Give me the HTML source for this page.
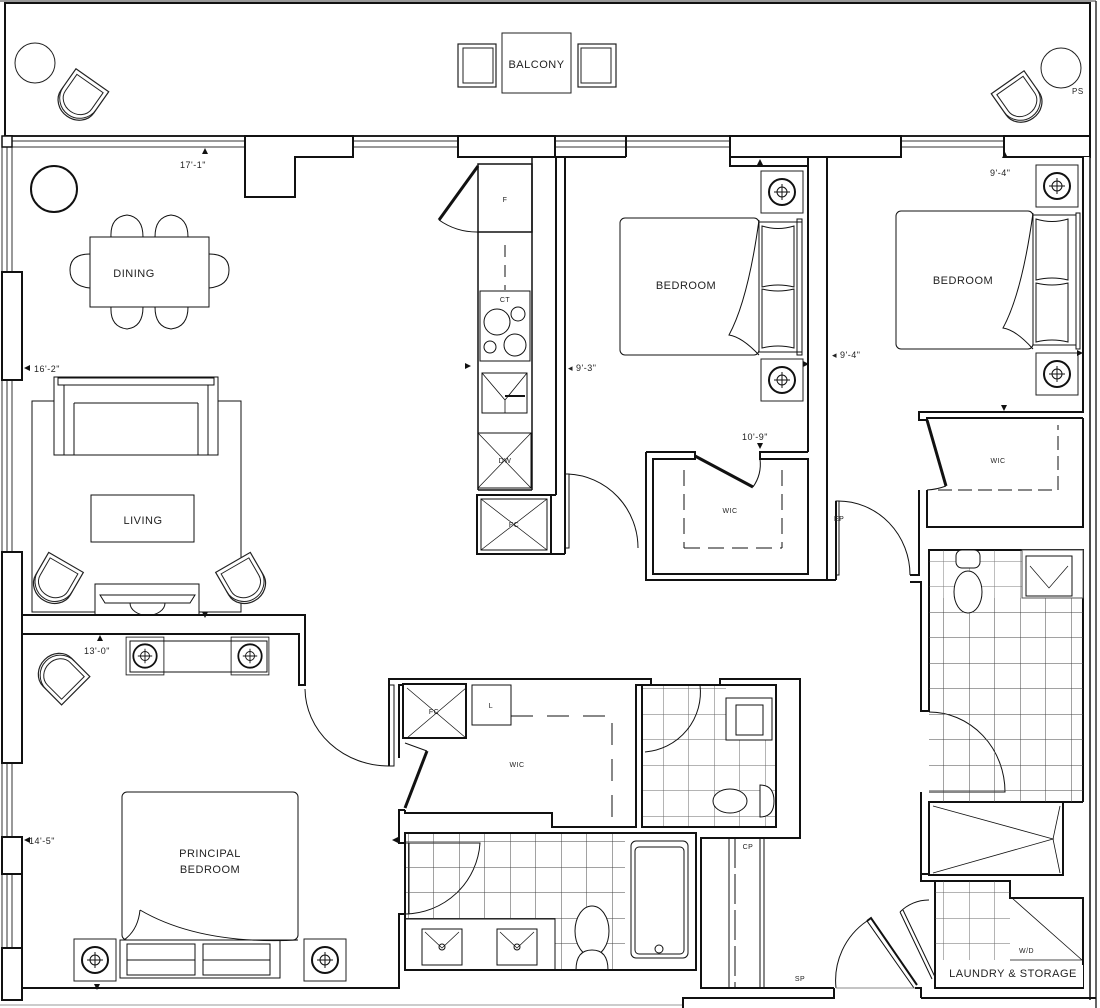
<!DOCTYPE html>
<html><head><meta charset="utf-8"><style>
html,body{margin:0;padding:0;background:#fff;}
svg{display:block;}
text{font-family:"Liberation Sans",sans-serif;fill:#222;letter-spacing:0.5px;}
</style></head><body>
<svg width="1100" height="1008" viewBox="0 0 1100 1008" xmlns="http://www.w3.org/2000/svg">
<defs>
<pattern id="tile" x="0" y="0" width="25.5" height="25.5" patternUnits="userSpaceOnUse">
<path d="M0 0H25.5M0 0V25.5" stroke="#444" stroke-width="1" fill="none"/>
</pattern>
<g id="chair">
<path d="M-20 -18 L20 -18 L20 8 A20 18 0 0 1 -20 8 Z" fill="#fff" stroke="#222" stroke-width="1.2"/>
<path d="M-16 -14 L16 -14 L16 6 A16 14 0 0 1 -16 6 Z" fill="none" stroke="#222" stroke-width="1"/>
<path d="M-20 4 A20 20 0 0 0 20 4" fill="none" stroke="#222" stroke-width="1"/>
</g>
<g id="ns">
<rect x="-21" y="-21" width="42" height="42" fill="#fff" stroke="#222" stroke-width="1"/>
<circle r="13" fill="none" stroke="#111" stroke-width="2"/>
<circle r="5" fill="none" stroke="#111" stroke-width="1"/>
<path d="M-8 0H8M0 -8V8" stroke="#111" stroke-width="1"/>
</g>
</defs>

<!-- balcony -->
<line x1="0" y1="1" x2="1096" y2="1" stroke="#333" stroke-width="1"/>
<rect x="5" y="3" width="1085" height="133" fill="none" stroke="#111" stroke-width="2"/>
<line x1="1096" y1="1" x2="1096" y2="1008" stroke="#333" stroke-width="1.5"/>
<circle cx="35" cy="63" r="20" fill="none" stroke="#222" stroke-width="1"/>
<g transform="translate(82,95) rotate(35)"><use href="#chair"/></g>
<g transform="translate(1018,97) rotate(-35)"><use href="#chair"/></g>
<circle cx="1061" cy="68" r="20" fill="none" stroke="#222" stroke-width="1"/>
<text x="1072" y="94" font-size="8">PS</text>
<rect x="502" y="33" width="69" height="60" fill="none" stroke="#222" stroke-width="1"/>
<text x="536.5" y="68" font-size="11" text-anchor="middle">BALCONY</text>
<rect x="458" y="44" width="38" height="43" fill="none" stroke="#222" stroke-width="1.2"/>
<rect x="463" y="48" width="30" height="35" fill="none" stroke="#222" stroke-width="1"/>
<rect x="578" y="44" width="38" height="43" fill="none" stroke="#222" stroke-width="1.2"/>
<rect x="581" y="48" width="30" height="35" fill="none" stroke="#222" stroke-width="1"/>

<!-- top window strip -->
<g stroke="#333" stroke-width="1" fill="none">
<rect x="12" y="136" width="1078" height="11"/>
<line x1="12" y1="141" x2="1090" y2="141"/>
<rect x="2" y="136" width="10" height="864"/>
<line x1="7" y1="147" x2="7" y2="1000"/>
</g>
<line x1="0" y1="1005" x2="683" y2="1005" stroke="#999" stroke-width="1"/>
<rect x="2" y="136" width="10" height="11" fill="#fff" stroke="#111" stroke-width="1.5"/>
<!-- wall blocks -->
<g fill="#fff" stroke="#111" stroke-width="2">
<polygon points="245,136 353,136 353,157 295,157 295,197 245,197"/>
<rect x="458" y="136" width="97" height="21"/>
<rect x="730" y="136" width="171" height="21"/>
<rect x="1004" y="136" width="86" height="21"/>
<rect x="2" y="272" width="20" height="108"/>
<rect x="2" y="552" width="20" height="211"/>
<rect x="2" y="837" width="20" height="37"/>
<rect x="2" y="948" width="20" height="52"/>
</g>
<line x1="555" y1="157" x2="626" y2="157" stroke="#111" stroke-width="2"/>
<line x1="626" y1="136" x2="626" y2="157" stroke="#111" stroke-width="2"/>
<rect x="1084" y="157" width="6" height="255" fill="#fff" stroke="none"/>
<line x1="1090" y1="136" x2="1090" y2="1000" stroke="#111" stroke-width="1.5"/>

<!-- kitchen -->
<g fill="none" stroke="#111" stroke-width="1.5">
<rect x="478" y="164" width="54" height="68"/>
<line x1="478" y1="232" x2="478" y2="490"/>
<line x1="532" y1="157" x2="532" y2="490"/>
<line x1="478" y1="490" x2="532" y2="490"/>
<rect x="480" y="291" width="50" height="70" stroke-width="1"/>
<circle cx="497" cy="322" r="13" stroke-width="1"/>
<circle cx="518" cy="314" r="7" stroke-width="1"/>
<circle cx="515" cy="345" r="11" stroke-width="1"/>
<circle cx="490" cy="347" r="6" stroke-width="1"/>
<rect x="482" y="373" width="45" height="40" stroke-width="1"/>
<path d="M482 373L505 400L527 373M505 400V413" stroke-width="0.8"/>
<line x1="505" y1="396" x2="525" y2="396" stroke-width="2"/>
<rect x="478" y="433" width="53" height="55" stroke-width="1"/>
<path d="M478 433L531 488M531 433L478 488" stroke-width="0.7"/>
<rect x="477" y="495" width="74" height="59" stroke-width="2"/>
<rect x="481" y="499" width="66" height="51" stroke-width="1"/>
<path d="M481 499L547 550M547 499L481 550" stroke-width="0.7"/>
<line x1="505" y1="245" x2="505" y2="290" stroke-dasharray="12,8" stroke-width="1"/>
<path d="M478 166 L439 220" stroke-width="3"/>
<path d="M439 220 A66 66 0 0 0 478 232" stroke-width="1"/>
</g>
<text x="505" y="202" font-size="7" text-anchor="middle">F</text>
<text x="505" y="302" font-size="7" text-anchor="middle">CT</text>
<text x="505" y="463" font-size="7" text-anchor="middle">DW</text>
<text x="514" y="527" font-size="7" text-anchor="middle">FC</text>

<!-- kitchen/bed1 wall -->
<line x1="556" y1="157" x2="556" y2="495" stroke="#111" stroke-width="2"/>
<line x1="565" y1="157" x2="565" y2="554" stroke="#111" stroke-width="2"/>
<line x1="551" y1="554" x2="565" y2="554" stroke="#111" stroke-width="2"/>
<line x1="551" y1="495" x2="556" y2="495" stroke="#111" stroke-width="2"/>
<path d="M568 474 A73 74 0 0 1 638 548" fill="none" stroke="#111" stroke-width="1"/>
<rect x="565" y="474" width="4" height="74" fill="none" stroke="#111" stroke-width="1"/>

<!-- bedroom1 -->
<g fill="none" stroke="#111" stroke-width="2">
<line x1="808" y1="157" x2="808" y2="452"/>
<line x1="827" y1="157" x2="827" y2="580"/>
<line x1="836" y1="501" x2="836" y2="580"/>
<polyline points="646,452 695,452 695,459 653,459 653,574 808,574 808,459 760,459 760,452 808,452"/>
<polyline points="646,452 646,580 836,580"/>
<polyline points="730,157 730,166 808,166"/>
<polyline points="827,157 901,157"/>
</g>
<g fill="none" stroke="#111" stroke-width="1">
<path d="M695 456 L753 487" stroke-width="3"/>
<path d="M753 487 A40 40 0 0 0 760 459"/>
<path d="M684 470V548M782 470V548M684 548H782" stroke-dasharray="16,8"/>
<path d="M838 501 A72 74 0 0 1 910 575"/>
<rect x="836" y="501" width="3" height="74"/>
<rect x="620" y="218" width="139" height="137" rx="5"/>
<rect x="759" y="222" width="43" height="130"/>
<rect x="797" y="219" width="5" height="136"/>
<path d="M762 226 Q778 231 794 226 L794 287 Q778 283 762 287Z M762 289 Q778 293 794 289 L794 348 Q778 344 762 348Z"/>
<path d="M759 220 Q748 300 729 335 Q742 337 759 355"/>
<rect x="896" y="211" width="137" height="138" rx="5"/>
<rect x="1033" y="215" width="43" height="130"/>
<rect x="1076" y="213" width="4" height="136"/>
<path d="M1036 219 Q1052 224 1068 219 L1068 280 Q1052 276 1036 280Z M1036 283 Q1052 287 1068 283 L1068 342 Q1052 338 1036 342Z"/>
<path d="M1033 213 Q1022 293 1003 328 Q1016 330 1033 349"/>
</g>
<use href="#ns" transform="translate(782,192)"/>
<use href="#ns" transform="translate(782,380)"/>
<use href="#ns" transform="translate(1057,186)"/>
<use href="#ns" transform="translate(1057,374)"/>
<text x="686" y="289" font-size="11" text-anchor="middle">BEDROOM</text>
<text x="963" y="284" font-size="11" text-anchor="middle">BEDROOM</text>
<text x="730" y="513" font-size="7" text-anchor="middle">WIC</text>
<text x="834" y="521" font-size="7">EP</text>
<text x="568" y="371" font-size="9">◂ 9'-3"</text>
<text x="832" y="358" font-size="9">◂ 9'-4"</text>
<text x="990" y="176" font-size="9">9'-4"</text>
<text x="742" y="440" font-size="9">10'-9"</text>
<path d="M760 159 l-3 6 h6z M1005 152 l-3 6 h6z M760 449 l-3 -6 h6z M1004 411 l-3 -6 h6z M471 366 l-6 -3 v6z M809 364 l-6 -3 v6z M1083 353 l-6 -3 v6z M205 148 l-3 6 h6z" fill="#111"/>

<!-- right section WIC2 / bath2 -->
<g fill="none" stroke="#111" stroke-width="2">
<polyline points="1083,157 1083,412 919,412 919,420 927,420 927,418 1083,418"/>
<polyline points="927,490 927,527 1083,527 1083,418"/>
<polyline points="919,490 919,575 910,575"/>
<polyline points="910,582 921,582 921,711 929,711 929,550 1083,550 1083,802"/>
<polyline points="921,792 921,874 929,874 929,802 1083,802"/>
<rect x="929" y="802" width="134" height="73"/>
<polyline points="921,874 921,881 935,881 935,988 1083,988 1083,898 1010,898 1010,881 935,881"/>
</g>
<g fill="none" stroke="#111" stroke-width="1">
<path d="M927 420 L946 486" stroke-width="3"/>
<path d="M946 486 A62 62 0 0 1 927 490"/>
<path d="M938 490H1058V425" stroke-dasharray="14,6"/>
<path d="M929 712 A76 80 0 0 1 1005 792 H929"/>
<path d="M933 806 L1053 839 L933 873 M1060 806 L1053 839 L1060 873" stroke-width="0.8"/>
<path d="M1012 898 L1082 960 M1010 960 H1083" stroke-width="0.8"/>
</g>
<rect x="929" y="598" width="154" height="204" fill="url(#tile)"/>
<rect x="929" y="550" width="93" height="48" fill="url(#tile)" opacity="0.7"/>
<rect x="935" y="881" width="75" height="79" fill="url(#tile)" opacity="0.8"/>
<rect x="1022" y="550" width="61" height="48" fill="#fff" stroke="#555"/>
<rect x="1026" y="556" width="46" height="40" fill="#fff" stroke="#111"/>
<path d="M1030 566 L1049 588 L1068 566" fill="none" stroke="#111" stroke-width="0.7"/>
<ellipse cx="968" cy="592" rx="14" ry="21" fill="#fff" stroke="#111"/>
<rect x="956" y="550" width="24" height="18" rx="6" fill="#fff" stroke="#111"/>
<rect x="945" y="965" width="138" height="22" fill="#fff"/>
<text x="998" y="463" font-size="7" text-anchor="middle">WIC</text>
<text x="1019" y="953" font-size="7">W/D</text>
<text x="1013" y="977" font-size="11" text-anchor="middle">LAUNDRY &amp; STORAGE</text>

<!-- living/dining -->
<circle cx="54" cy="189" r="23" fill="none" stroke="#111" stroke-width="2"/>
<g fill="none" stroke="#111" stroke-width="1">
<rect x="90" y="237" width="119" height="70"/>
<path d="M111 237 Q110 217 127 215 Q143 217 143 237 M155 237 Q155 217 171 215 Q188 217 188 237"/>
<path d="M111 307 Q110 327 127 329 Q143 327 143 307 M155 307 Q155 327 171 329 Q188 327 188 307"/>
<path d="M90 254 Q70 254 70 270 Q70 286 90 288 M209 254 Q229 254 229 270 Q229 286 209 288"/>
<rect x="32" y="401" width="209" height="211"/>
<rect x="54" y="377" width="164" height="78" fill="#fff"/>
<rect x="58" y="378" width="156" height="7"/>
<path d="M64 385V455M208 385V455M74 403H198M74 403V455M198 403V455"/>
<rect x="91" y="495" width="103" height="47"/>
<rect x="95" y="584" width="104" height="31" fill="#fff"/>
<path d="M100 595H195L190 603H105Z M130 603 A17 12 0 0 0 165 603"/>
</g>
<use href="#chair" transform="translate(57,578) rotate(30)"/>
<use href="#chair" transform="translate(242,578) rotate(-30)"/>
<text x="134" y="277" font-size="11" text-anchor="middle">DINING</text>
<text x="143" y="524" font-size="11" text-anchor="middle">LIVING</text>
<text x="180" y="168" font-size="9">17'-1"</text>
<text x="34" y="372" font-size="9">16'-2"</text>
<path d="M24 368 l6 -3 v6z M205 618 l-3 -6 h6z M100 635 l-3 6 h6z M24 840 l6 -3 v6z M97 990 l-3 -6 h6z M392 840 l6 -3 v6z" fill="#111"/>

<!-- principal bedroom -->
<g fill="none" stroke="#111" stroke-width="2">
<polyline points="22,615 305,615 305,685 299,685 299,634 22,634"/>
<polyline points="22,763 22,634"/>
<polyline points="22,874 22,948"/>
<polyline points="22,1000 22,988 399,988 399,914 405,914 405,970 696,970 696,833 405,833 405,843 399,843 399,810 405,810"/>
<polyline points="389,766 389,679 651,679 651,685 636,685 636,827 552,827 552,813 405,813 405,810"/>
<rect x="403" y="684" width="63" height="54"/>
<polyline points="399,758 399,685 403,685"/>
<polyline points="642,685 642,827 776,827 776,685 720,685 720,679 800,679 800,838 701,838 701,988 834,988"/>
<polyline points="642,679 652,679"/>
<polyline points="915,988 921,988 921,998"/>
<polyline points="834,988 834,998 683,998 683,1008"/>
<polyline points="921,998 1096,998"/>
</g>
<g fill="none" stroke="#111" stroke-width="1">
<rect x="389" y="685" width="5" height="81"/>
<path d="M305 689 A84 78 0 0 0 389 766"/>
<path d="M407 738 L466 688 M407 688 L466 738" stroke-width="0.7"/>
<rect x="472" y="685" width="39" height="40"/>
<path d="M511 716H612V827" stroke-dasharray="22,14"/>
<path d="M405 743 L427 751"/>
<path d="M427 751 L405 808" stroke-width="3"/>
<rect x="130" y="641" width="137" height="31"/>
<rect x="122" y="792" width="176" height="148" rx="5"/>
<rect x="120" y="940" width="160" height="38"/>
<path d="M127 944H195V975H127Z M203 944H270V975H203Z M127 960H195M203 960H270"/>
<path d="M140 910 Q200 945 298 940 L124 940 Q138 930 140 910"/>
<rect x="405" y="843" width="4" height="71"/>
<path d="M409 843 H480 A76 76 0 0 1 405 914"/>
<rect x="701" y="838" width="28" height="150"/>
<path d="M729 838V988M735 838V988" stroke-dasharray="30,6"/>
<path d="M760 838V988M764 838V988"/>
<path d="M836 988 A72 72 0 0 1 867 921 L914 988"/>
<path d="M867 921 L871 918 L917 985" stroke-width="2"/>
<path d="M900 912 L932 979 M903 910 L935 977 M900 912 A40 40 0 0 1 929 900"/>
<line x1="836" y1="988" x2="915" y2="988" stroke="#888"/>
</g>
<use href="#ns" transform="translate(145,656) scale(0.9)"/>
<use href="#ns" transform="translate(250,656) scale(0.9)"/>
<rect x="130" y="641" width="137" height="31" fill="none" stroke="#111" stroke-width="1"/>
<use href="#ns" transform="translate(95,960)"/>
<use href="#ns" transform="translate(325,960)"/>
<use href="#chair" transform="translate(63,678) rotate(135)"/>
<text x="210" y="857" font-size="11" text-anchor="middle">PRINCIPAL</text>
<text x="210" y="873" font-size="11" text-anchor="middle">BEDROOM</text>
<text x="29" y="844" font-size="9">14'-5"</text>
<text x="84" y="654" font-size="9">13'-0"</text>
<text x="434" y="714" font-size="7" text-anchor="middle">FC</text>
<text x="491" y="708" font-size="7" text-anchor="middle">L</text>
<text x="517" y="767" font-size="7" text-anchor="middle">WIC</text>
<text x="748" y="849" font-size="7" text-anchor="middle">CP</text>
<text x="800" y="981" font-size="7" text-anchor="middle">SP</text>

<!-- ensuite tiles -->
<rect x="405" y="833" width="220" height="86" fill="url(#tile)"/>
<rect x="555" y="919" width="70" height="51" fill="url(#tile)"/>
<g fill="#fff" stroke="#111" stroke-width="1">
<rect x="405" y="919" width="150" height="51"/>
<rect x="422" y="929" width="40" height="36"/>
<rect x="497" y="929" width="40" height="36"/>
<rect x="631" y="841" width="57" height="117" rx="5"/>
<rect x="635" y="847" width="49" height="107" rx="4"/>
<ellipse cx="592" cy="931" rx="17" ry="25"/>
<path d="M576 970 Q576 950 592 950 Q608 950 608 970"/>
</g>
<path d="M425 932 L442 948 L459 932 M500 932 L517 948 L534 932" fill="none" stroke="#111" stroke-width="0.7"/>
<circle cx="442" cy="947" r="3" fill="none" stroke="#111"/>
<circle cx="517" cy="947" r="3" fill="none" stroke="#111"/>
<circle cx="659" cy="949" r="4" fill="none" stroke="#111"/>
<rect x="405" y="833" width="291" height="137" fill="none" stroke="#111" stroke-width="2"/>

<!-- powder bath tiles -->
<rect x="642" y="685" width="84" height="142" fill="url(#tile)" opacity="0.8"/>
<rect x="726" y="740" width="50" height="87" fill="url(#tile)" opacity="0.8"/>
<g fill="#fff" stroke="#111" stroke-width="1">
<rect x="726" y="698" width="46" height="42"/>
<rect x="736" y="705" width="27" height="30"/>
<ellipse cx="730" cy="801" rx="17" ry="12"/>
<path d="M760 785 Q774 785 774 801 Q774 817 760 817Z"/>
</g>
<path d="M641 685 H700 A60 60 0 0 1 645 752" fill="none" stroke="#111" stroke-width="1"/>
<rect x="642" y="685" width="134" height="142" fill="none" stroke="#111" stroke-width="2"/>
</svg>
</body></html>
